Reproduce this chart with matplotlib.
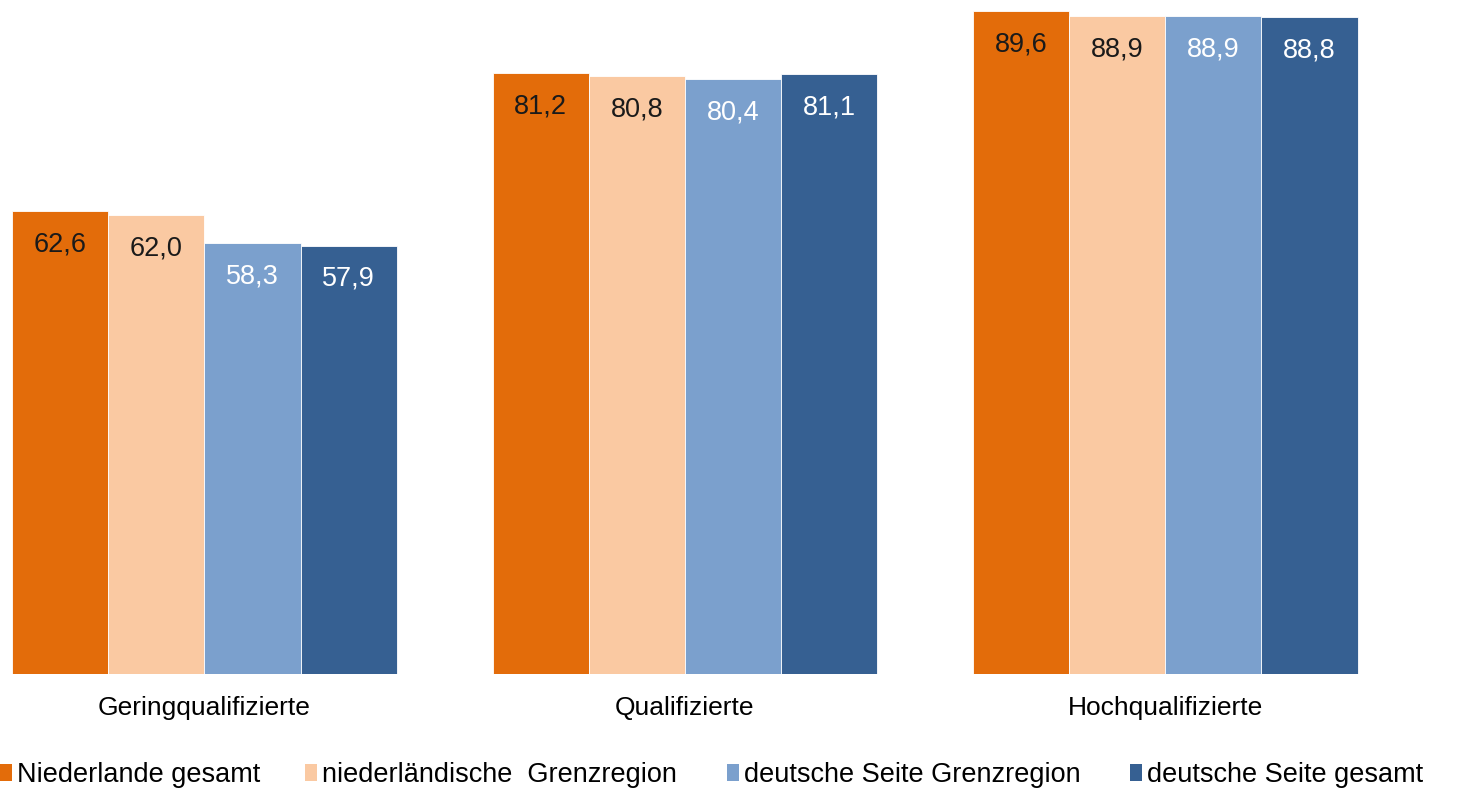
import matplotlib
matplotlib.use("Agg")
import matplotlib.pyplot as plt
from matplotlib.patches import Patch
import numpy as np

plt.rcParams['font.family'] = ['Liberation Sans', 'DejaVu Sans']

categories = ["Geringqualifizierte", "Qualifizierte", "Hochqualifizierte"]
series_names = ["Niederlande gesamt", "niederländische  Grenzregion",
                "deutsche Seite Grenzregion", "deutsche Seite gesamt"]
nl_total = [62.6, 81.2, 89.6]
nl_border = [62.0, 80.8, 88.9]
de_border = [58.3, 80.4, 88.9]
de_total = [57.9, 81.1, 88.8]
series_values = [nl_total, nl_border, de_border, de_total]
colors = ["#E36C0A", "#FAC9A2", "#7BA0CD", "#366092"]
label_colors = ["#1a1a1a", "#1a1a1a", "white", "white"]

W, H = 1470, 789
fig = plt.figure(figsize=(W / 100, H / 100), dpi=100)
ax = fig.add_axes([0, 1 - 674 / H, 1, 674 / H])

x = np.arange(len(categories))
w = 0.2
for i, (vals, c, lc) in enumerate(zip(series_values, colors, label_colors)):
    pos = x - 0.3 + i * w
    ax.bar(pos, vals, width=w, color=c, edgecolor="white", linewidth=0.6)
    for p, v in zip(pos, vals):
        ax.annotate(f"{v:.1f}".replace(".", ","), (p, v), xytext=(0, -24),
                    textcoords="offset points", ha="center", va="center",
                    fontsize=19.5, color=lc)

ax.set_ylim(0, 91.1)
ax.set_xlim(-0.4256, 2.634)
ax.set_xticks(x)
ax.set_xticklabels(categories, fontsize=19)
ax.tick_params(axis="x", length=0, pad=15.5)
ax.set_yticks([])
for s in ax.spines.values():
    s.set_visible(False)

legend_x_px = [0, 305, 727, 1130]
for name, c, lx in zip(series_names, colors, legend_x_px):
    leg = fig.legend([Patch(facecolor=c, edgecolor="none")], [name],
                     loc="center left", bbox_to_anchor=(lx / W, 1 - 775 / H),
                     frameon=False, fontsize=19.5, handlelength=0.45,
                     handleheight=0.55, handletextpad=0.17, borderpad=0,
                     borderaxespad=0)

fig.savefig("out.png", dpi=100)
